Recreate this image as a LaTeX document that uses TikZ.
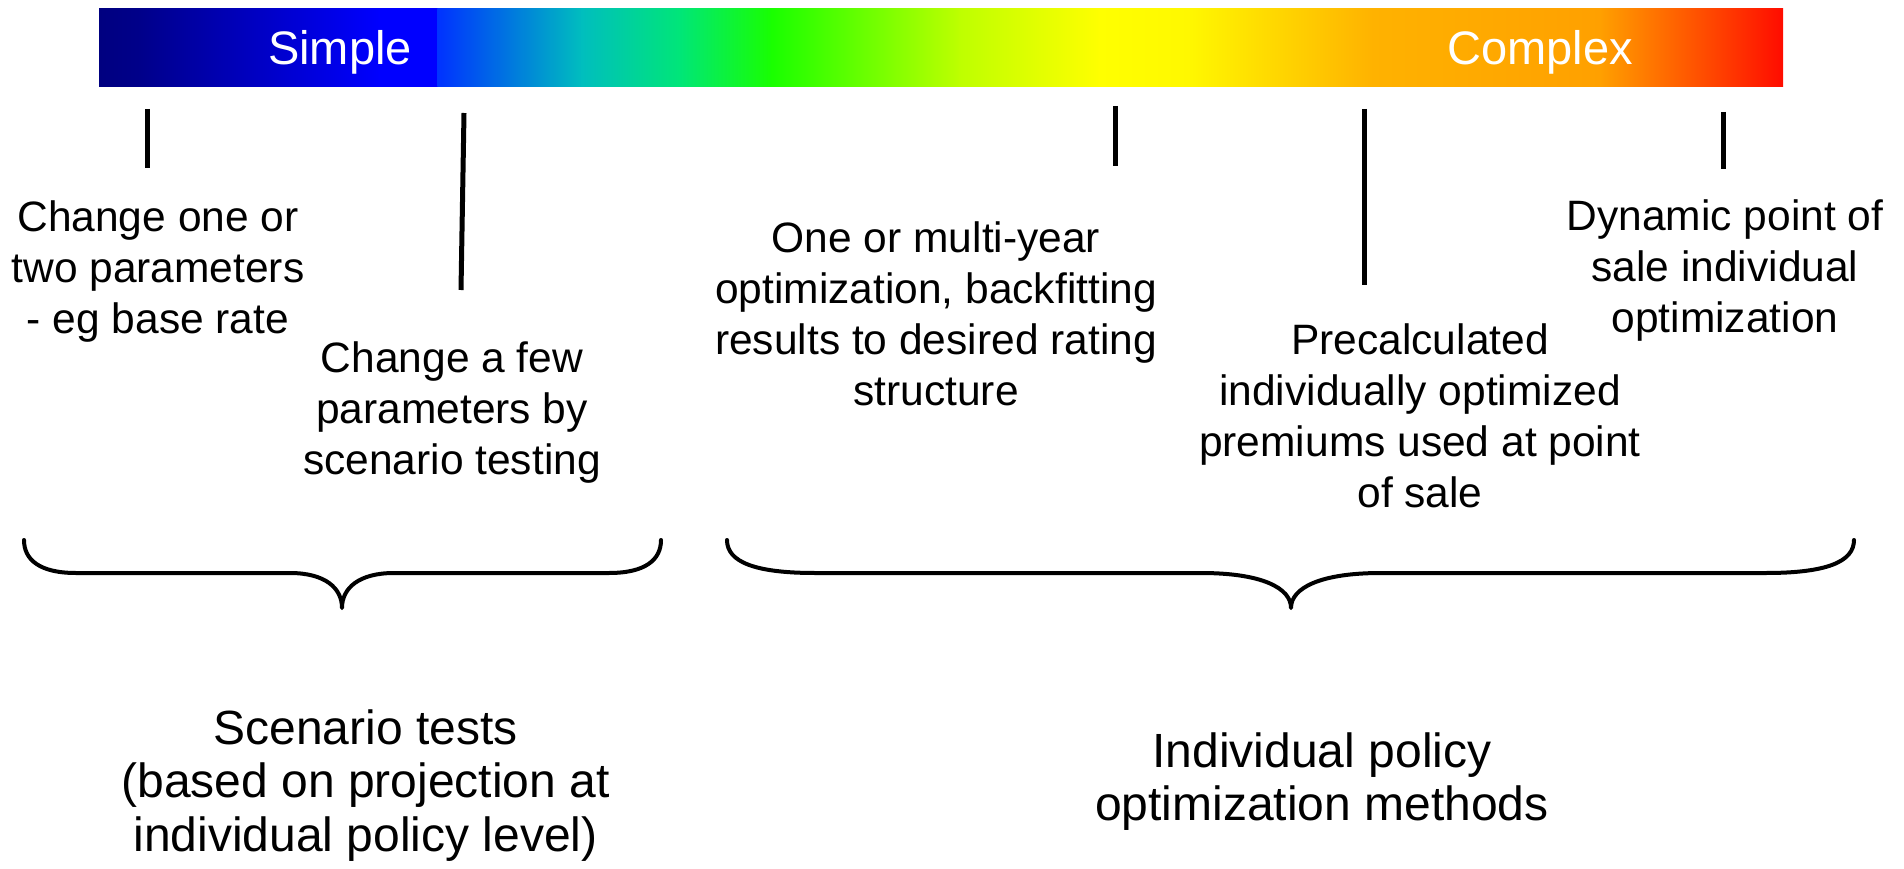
\documentclass[tikz,border=0pt]{standalone}
\usepackage{fontspec}
\setmainfont{Liberation Sans}
\definecolor{c0}{RGB}{0,0,128}
\definecolor{c1}{RGB}{0,0,138}
\definecolor{c2}{RGB}{0,0,255}
\definecolor{c3}{RGB}{0,50,255}
\definecolor{c4}{RGB}{0,190,190}
\definecolor{c5}{RGB}{0,230,120}
\definecolor{c6}{RGB}{25,255,0}
\definecolor{c7}{RGB}{190,255,0}
\definecolor{c8}{RGB}{255,255,0}
\definecolor{c9}{RGB}{255,248,0}
\definecolor{c10}{RGB}{255,178,0}
\definecolor{c11}{RGB}{255,160,0}
\definecolor{c12}{RGB}{255,12,0}
\newcommand\gseg[4]{\shade[left color=#3,right color=#4] (#1-0.6,8.5) rectangle (#2+0.6,86.5);}
\begin{document}
\begin{tikzpicture}[x=1pt,y=-1pt,
  tick/.style={line width=5pt},
  brace/.style={line width=4pt, line join=round, line cap=round},
  lbl/.style={font=\fontsize{42.5}{51}\selectfont, align=center, anchor=base, inner sep=0pt},
  big/.style={font=\fontsize{48}{53.5}\selectfont, align=center, anchor=base, inner sep=0pt},
  bartext/.style={font=\fontsize{47}{54}\selectfont, text=white, anchor=base, inner sep=0pt}]
\useasboundingbox (0,0) rectangle (1904,869);
% gradient bar
\gseg{99.6}{140}{c0}{c1}
\gseg{140}{380}{c1}{c2}
\gseg{380}{438}{c2}{c2}
\gseg{438}{582}{c3}{c4}
\gseg{582}{680}{c4}{c5}
\gseg{680}{772}{c5}{c6}
\gseg{772}{960}{c6}{c7}
\gseg{960}{1100}{c7}{c8}
\gseg{1100}{1189}{c8}{c9}
\gseg{1189}{1373}{c9}{c10}
\gseg{1373}{1600}{c10}{c11}
\gseg{1600}{1782.6}{c11}{c12}
\node[bartext] (simple) at (340,65) {Simple};
\node[bartext] (complex) at (1540,65) {Complex};
% ticks
\coordinate (t1a) at (147,109); \coordinate (t1b) at (147,168);
\coordinate (t2a) at (464,113); \coordinate (t2b) at (461,290);
\coordinate (t3a) at (1115,106); \coordinate (t3b) at (1115,166);
\coordinate (t4a) at (1364,109); \coordinate (t4b) at (1364,285);
\coordinate (t5a) at (1723,112); \coordinate (t5b) at (1723,169);
\draw[tick] (t1a) -- (t1b);
\draw[tick] (t2a) -- (t2b);
\draw[tick] (t3a) -- (t3b);
\draw[tick] (t4a) -- (t4b);
\draw[tick] (t5a) -- (t5b);
% labels (anchored at the baseline of the last line)
\node[lbl] (l1) at (158,333) {Change one or\\two parameters\\- eg base rate};
\node[lbl] (l2) at (452,474) {Change a few\\parameters by\\scenario testing};
\node[lbl] (l3) at (936,405) {One or multi-year\\optimization, backfitting\\results to desired rating\\structure};
\node[lbl] (l4) at (1420,507) {Precalculated\\individually optimized\\premiums used at point\\of sale};
\node[lbl] (l5) at (1725,332) {Dynamic point of\\sale individual\\optimization};
% braces
\draw[brace] (24,540) .. controls (24,560) and (40,573) .. (76,573) -- (290,573)
  .. controls (325,573) and (342,588) .. (342,608)
  .. controls (342,588) and (359,573) .. (394,573) -- (609,573)
  .. controls (645,573) and (661,560) .. (661,540);
\draw[brace] (727,540) .. controls (727,562) and (755,573) .. (815,573) -- (1201,573)
  .. controls (1262,573) and (1291,588) .. (1291,608)
  .. controls (1291,588) and (1320,573) .. (1381,573) -- (1766,573)
  .. controls (1826,573) and (1854,562) .. (1854,540);
% bottom labels
\node[big] (b1) at (365.5,851) {Scenario tests\\(based on projection at\\individual policy level)};
\node[big] (b2) at (1322,820.5) {Individual policy\\optimization methods};
\end{tikzpicture}
\end{document}
